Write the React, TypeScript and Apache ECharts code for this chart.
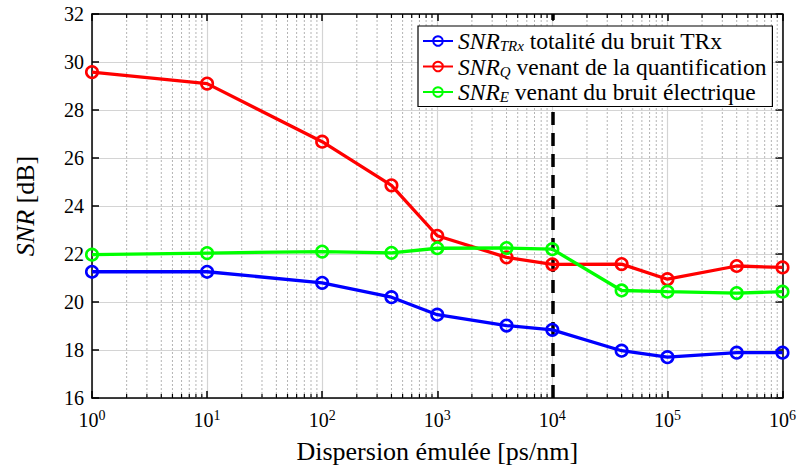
import React, { useEffect, useRef } from "react";
import * as echarts from "echarts";

const dispersion = [1, 10, 100, 400, 1000, 4000, 10000, 40000, 100000, 400000, 1000000];
const snrTRx = [21.26, 21.26, 20.8, 20.2, 19.47, 19.02, 18.84, 17.97, 17.7, 17.89, 17.89];
const snrQ = [29.58, 29.1, 26.68, 24.86, 22.76, 21.86, 21.57, 21.58, 20.95, 21.5, 21.44];
const snrE = [21.97, 22.04, 22.1, 22.05, 22.24, 22.25, 22.2, 20.48, 20.43, 20.37, 20.43];
const seriesNames = ["SNR_TRx", "SNR_Q", "SNR_E"];
const legendLabels: Record<string, string> = {
  SNR_TRx: "{i|SNR}{s|TRx} totalité du bruit TRx",
  SNR_Q: "{i|SNR}{s|Q} venant de la quantification",
  SNR_E: "{i|SNR}{s|E} venant du bruit électrique",
};
const colors = ["#0000ff", "#ff0000", "#00ff00"];
const markerX = 10000;

const minorX: number[] = [];
for (let k = 0; k < 6; k++) {
  for (let m = 2; m <= 9; m++) minorX.push(m * Math.pow(10, k));
}

const FONT = "'Liberation Serif', 'Times New Roman', serif";

export default function App() {
  const ref = useRef<HTMLDivElement>(null);
  useEffect(() => {
    if (!ref.current) return;
    document.body.style.margin = "0";
    const chart = echarts.init(ref.current, null, { renderer: "svg" });
    const mk = (name: string, vals: number[], color: string, extra: any = {}) => ({
      name,
      type: "line",
      data: dispersion.map((x, i) => [x, vals[i]]),
      symbol: "circle",
      symbolSize: 11.5,
      lineStyle: { color, width: 3.3 },
      itemStyle: { color: "rgba(0,0,0,0)", borderColor: color, borderWidth: 2.6 },
      color,
      z: 3,
      ...extra,
    });
    const option: any = {
      animation: false,
      textStyle: { fontFamily: FONT },
      grid: { left: 92, right: 15, top: 14, bottom: 75, containLabel: false },
      legend: {
        data: seriesNames,
        orient: "vertical",
        left: 418,
        top: 26,
        z: 10,
        padding: [3, 6, 2, 4],
        itemGap: 1,
        itemWidth: 30,
        itemHeight: 12,
        backgroundColor: "#fff",
        borderColor: "#000",
        borderWidth: 1.2,
        formatter: (n: string) => legendLabels[n],
        textStyle: {
          fontFamily: FONT,
          fontSize: 23.5,
          color: "#000",
          rich: {
            i: { fontFamily: FONT, fontStyle: "italic", fontSize: 23.5, color: "#000" },
            s: { fontFamily: FONT, fontStyle: "italic", fontSize: 15, color: "#000", padding: [10, 0, 0, 0] },
          },
        },
      },
      xAxis: [
        {
          type: "log",
          logBase: 10,
          min: 1,
          max: 1000000,
          interval: 1,
          name: "Dispersion émulée [ps/nm]",
          nameLocation: "middle",
          nameGap: 40,
          nameTextStyle: { fontFamily: FONT, fontSize: 26, color: "#000" },
          axisLine: { lineStyle: { color: "#000", width: 1.5 } },
          axisTick: { inside: true, length: 7, lineStyle: { color: "#000", width: 1.5 } },
          axisLabel: {
            margin: 10,
            fontFamily: FONT,
            formatter: (v: number) => "{b|10}{p|" + Math.round(Math.log10(v)) + "}",
            rich: {
              b: { fontFamily: FONT, fontSize: 20, color: "#000" },
              p: { fontFamily: FONT, fontSize: 14, color: "#000", padding: [0, 0, 10, 0] },
            },
          },
          splitLine: { show: true, lineStyle: { color: "#d4d4d4", width: 1.2 } },
        },
        {
          type: "log",
          logBase: 10,
          min: 1,
          max: 1000000,
          interval: 1,
          position: "top",
          axisLine: { lineStyle: { color: "#000", width: 1.5 } },
          axisTick: { inside: true, length: 7, lineStyle: { color: "#000", width: 1.5 } },
          axisLabel: { show: false },
          splitLine: { show: false },
        },
      ],
      yAxis: [
        {
          type: "value",
          min: 16,
          max: 32,
          interval: 2,
          name: "{i|SNR} [dB]",
          nameLocation: "middle",
          nameGap: 54,
          nameRotate: 90,
          nameTextStyle: {
            fontFamily: FONT,
            fontSize: 26,
            color: "#000",
            rich: {
              i: { fontFamily: FONT, fontStyle: "italic", fontSize: 26, color: "#000" },
            },
          },
          axisLine: { show: true, lineStyle: { color: "#000", width: 1.5 } },
          axisTick: { show: true, inside: true, length: 7, lineStyle: { color: "#000", width: 1.5 } },
          axisLabel: { fontFamily: FONT, fontSize: 20, color: "#000", margin: 8 },
          splitLine: { show: true, lineStyle: { color: "#d4d4d4", width: 1.2 } },
        },
        {
          type: "value",
          min: 16,
          max: 32,
          interval: 2,
          position: "right",
          axisLine: { show: true, lineStyle: { color: "#000", width: 1.5 } },
          axisTick: { show: true, inside: true, length: 7, lineStyle: { color: "#000", width: 1.5 } },
          axisLabel: { show: false },
          splitLine: { show: false },
        },
      ],
      series: [
        {
          type: "custom",
          silent: true,
          z: 1,
          clip: false,
          data: minorX.map((x) => [x, 16]),
          encode: { x: 0, y: 1 },
          renderItem: (params: any, api: any) => {
            const x = api.value(0);
            const p0 = api.coord([x, 16]);
            const p1 = api.coord([x, 32]);
            return {
              type: "group",
              children: [
                {
                  type: "line",
                  shape: { x1: p0[0], y1: p0[1], x2: p1[0], y2: p1[1] },
                  style: { stroke: "#b4b4b4", lineWidth: 1, lineDash: [2, 2] },
                },
                {
                  type: "line",
                  shape: { x1: p0[0], y1: p0[1], x2: p0[0], y2: p0[1] - 4 },
                  style: { stroke: "#000", lineWidth: 1.2 },
                },
                {
                  type: "line",
                  shape: { x1: p1[0], y1: p1[1], x2: p1[0], y2: p1[1] + 4 },
                  style: { stroke: "#000", lineWidth: 1.2 },
                },
              ],
            };
          },
        },
        mk(seriesNames[0], snrTRx, colors[0]),
        mk(seriesNames[1], snrQ, colors[1]),
        mk(seriesNames[2], snrE, colors[2], {
          markLine: {
            silent: true,
            z: 3,
            symbol: "none",
            label: { show: false },
            lineStyle: { color: "#000", width: 3.5, type: [13, 8] },
            data: [{ xAxis: markerX }],
          },
        }),
      ],
    };
    chart.setOption(option);
    return () => chart.dispose();
  }, []);
  return <div ref={ref} style={{ width: 799, height: 473 }} />;
}
